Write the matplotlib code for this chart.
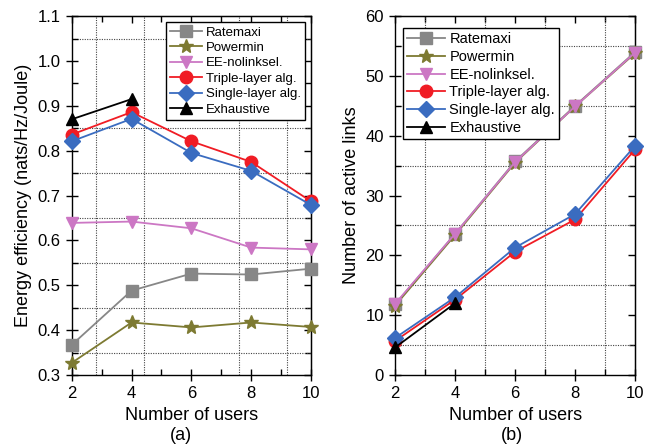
import matplotlib
matplotlib.use("Agg")
import matplotlib.pyplot as plt
from matplotlib.ticker import MultipleLocator

plt.rcParams['font.family'] = ['Liberation Sans', 'DejaVu Sans']

users = [2, 4, 6, 8, 10]
users_exh = [2, 4]

labels = ["Ratemaxi", "Powermin", "EE-nolinksel.", "Triple-layer alg.",
          "Single-layer alg.", "Exhaustive"]

# (a) energy efficiency
ee_ratemaxi = [0.367, 0.488, 0.526, 0.524, 0.537]
ee_powermin = [0.327, 0.417, 0.406, 0.417, 0.407]
ee_nolinksel = [0.639, 0.642, 0.627, 0.584, 0.580]
ee_triple = [0.836, 0.886, 0.821, 0.775, 0.687]
ee_single = [0.821, 0.871, 0.795, 0.755, 0.679]
ee_exhaustive = [0.870, 0.915]

# (b) number of active links
al_ratemaxi = [11.8, 23.6, 35.7, 45.0, 54.0]
al_powermin = [11.6, 23.4, 35.5, 44.9, 53.8]
al_nolinksel = [11.9, 23.6, 35.6, 44.9, 53.9]
al_triple = [5.7, 12.6, 20.6, 26.0, 37.7]
al_single = [6.2, 13.0, 21.3, 26.9, 38.3]
al_exhaustive = [4.6, 12.0]

styles = [
    dict(color="#878787", marker="s"),
    dict(color="#7d7a32", marker="*"),
    dict(color="#cc77c4", marker="v"),
    dict(color="#f01c24", marker="o"),
    dict(color="#3a6cc0", marker="D"),
    dict(color="#000000", marker="^"),
]
msizes = [8, 10.5, 9, 9, 8, 9]

GRID = dict(color="#444444", lw=0.8, ls=(0, (1, 1.2)), zorder=1)

fig = plt.figure(figsize=(6.52, 4.48), dpi=100)
ax1 = fig.add_axes([0.110, 0.163, 0.367, 0.801])
ax2 = fig.add_axes([0.606, 0.163, 0.368, 0.801])


def draw(ax, series):
    for (xs, ys), st, ms, lab in zip(series, styles, msizes, labels):
        ax.plot(xs, ys, lw=1.3, markersize=ms, label=lab, clip_on=False,
                zorder=3, **st)


def style_axes(ax, ymajor, yminor):
    ax.set_xlim(2, 10)
    ax.xaxis.set_major_locator(MultipleLocator(2))
    ax.xaxis.set_minor_locator(MultipleLocator(1))
    ax.yaxis.set_major_locator(MultipleLocator(ymajor))
    ax.yaxis.set_minor_locator(MultipleLocator(yminor))
    ax.tick_params(which="major", direction="inout", length=8, width=1,
                   labelsize=12)
    ax.tick_params(which="minor", direction="in", length=4, width=1)
    ax.tick_params(axis="x", which="major", pad=4)
    ax.tick_params(axis="y", which="major", pad=4)
    for sp in ax.spines.values():
        sp.set_linewidth(1.0)
    # inward ticks along the top and right edges
    top = ax.secondary_xaxis("top")
    top.xaxis.set_major_locator(MultipleLocator(2))
    top.xaxis.set_minor_locator(MultipleLocator(1))
    top.tick_params(which="both", direction="in", labeltop=False)
    top.tick_params(which="major", length=5, width=1)
    top.tick_params(which="minor", length=4, width=1)
    right = ax.secondary_yaxis("right")
    right.yaxis.set_major_locator(MultipleLocator(ymajor))
    right.yaxis.set_minor_locator(MultipleLocator(yminor))
    right.tick_params(which="both", direction="in", labelright=False)
    right.tick_params(which="major", length=5, width=1)
    right.tick_params(which="minor", length=4, width=1)
    ax.set_xlabel("Number of users", fontsize=13, labelpad=4)


draw(ax1, [(users, ee_ratemaxi), (users, ee_powermin), (users, ee_nolinksel),
           (users, ee_triple), (users, ee_single), (users_exh, ee_exhaustive)])
ax1.set_ylim(0.3, 1.1)
style_axes(ax1, 0.1, 0.05)
ax1.set_ylabel("Energy efficiency (nats/Hz/Joule)", fontsize=13, labelpad=4)
for yv in [0.35, 0.45, 0.55, 0.65, 0.75, 0.85, 1.05]:
    ax1.axhline(yv, **GRID)
for xv in [2.8, 4.4, 7.6, 9.2]:
    ax1.axvline(xv, **GRID)
leg1 = ax1.legend(loc="upper right", bbox_to_anchor=(0.985, 0.99),
                  fontsize=9.5, frameon=True, fancybox=False, edgecolor="black",
                  borderpad=0.3, labelspacing=0.24, handlelength=2.4,
                  handletextpad=0.3, borderaxespad=0.2, framealpha=1)
leg1.get_frame().set_linewidth(1.0)
leg1.set_zorder(5)

draw(ax2, [(users, al_ratemaxi), (users, al_powermin), (users, al_nolinksel),
           (users, al_triple), (users, al_single), (users_exh, al_exhaustive)])
ax2.set_ylim(0, 60)
style_axes(ax2, 10, 5)
ax2.set_ylabel("Number of active links", fontsize=13, labelpad=4)
for yv in [5, 15, 25, 35, 45, 55]:
    ax2.axhline(yv, **GRID)
for xv in [3, 5, 7, 9]:
    ax2.axvline(xv, **GRID)
leg2 = ax2.legend(loc="upper left", bbox_to_anchor=(0.02, 0.975),
                  fontsize=10.5, frameon=True, fancybox=False, edgecolor="black",
                  borderpad=0.3, labelspacing=0.25, handlelength=2.6,
                  handletextpad=0.3, borderaxespad=0.2, framealpha=1)
leg2.get_frame().set_linewidth(1.0)
leg2.set_zorder(5)

fig.text(0.278, 0.027, "(a)", ha="center", va="center", fontsize=13)
fig.text(0.785, 0.027, "(b)", ha="center", va="center", fontsize=13)

fig.savefig("out.png", dpi=100)
